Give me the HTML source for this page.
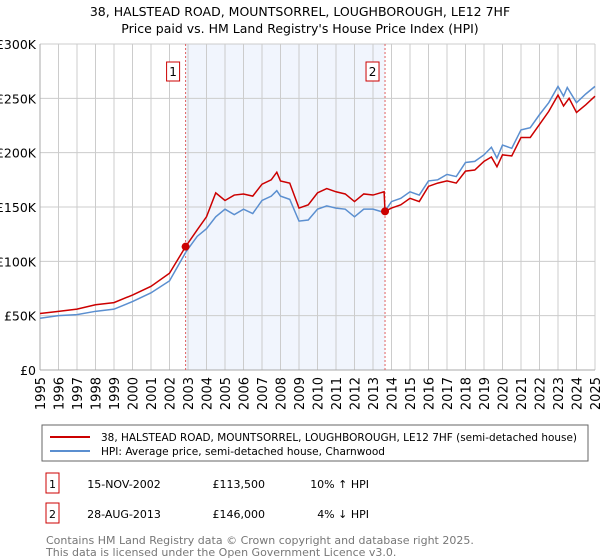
<!DOCTYPE html>
<html><head><meta charset="utf-8"><style>
body{margin:0;background:#fff;font-family:"Liberation Sans","DejaVu Sans",sans-serif;}
#wrap{position:relative;width:600px;height:560px;overflow:hidden;}
svg text{font-family:"DejaVu Sans","Liberation Sans",sans-serif;}
</style></head><body><div id="wrap">
<svg id="chart" width="600" height="560"></svg>
</div>
<script>
const hpiYears=[1995,1996,1997,1998,1999,2000,2001,2002,2002.9,2003.5,2004,2004.5,2005,2005.5,2006,2006.5,2007,2007.5,2007.8,2008,2008.5,2009,2009.5,2010,2010.5,2011,2011.5,2012,2012.5,2013,2013.6,2014,2014.5,2015,2015.5,2016,2016.5,2017,2017.5,2018,2018.5,2019,2019.4,2019.7,2020,2020.5,2021,2021.5,2022,2022.5,2023,2023.3,2023.5,2024,2024.5,2025];
const hpiValues=[47.6,50,51,54,56,63,71,82,109,123,130,141,148,143,148,144,156,160,165,160,157,137,138,148,151,149,148,141,148,148,145,155,158,164,161,174,175,180,178,191,192,198,205,195,207,204,221,223,235,246,261,252,260,246,254,261];
const redYears=[1995,1996,1997,1998,1999,2000,2001,2002,2002.87,2003.5,2004,2004.5,2005,2005.5,2006,2006.5,2007,2007.5,2007.8,2008,2008.5,2009,2009.5,2010,2010.5,2011,2011.5,2012,2012.5,2013,2013.6,2013.65,2014,2014.5,2015,2015.5,2016,2016.5,2017,2017.5,2018,2018.5,2019,2019.4,2019.7,2020,2020.5,2021,2021.5,2022,2022.5,2023,2023.3,2023.6,2024,2024.5,2025];
const redValues=[52,54,56,60,62,69,77,89,113.5,129,141,163,156,161,162,160,171,175,182,174,172,149,152,163,167,164,162,155,162,161,164,146,149,152,158,155,169,172,174,172,183,184,192,196,187,198,197,214,214,226,238,253,243,250,237,244,252];
const saleYears=[2002.87,2013.65];
const saleValues=[113.5,146];
const saleLabels=["1","2"];
const yTicks=[0,50,100,150,200,250,300];
const yTickLabels=["£0","£50K","£100K","£150K","£200K","£250K","£300K"];
const xTicks=[1995,1996,1997,1998,1999,2000,2001,2002,2003,2004,2005,2006,2007,2008,2009,2010,2011,2012,2013,2014,2015,2016,2017,2018,2019,2020,2021,2022,2023,2024,2025];

const NS="http://www.w3.org/2000/svg";
const svg=document.getElementById('chart');
const X0=40,X1=595,Y0=370,Y1=44;
const x=v=>X0+(v-1995)/(2025-1995)*(X1-X0);
const y=v=>Y0-v/300*(Y0-Y1);
function mk(t,a,txt){const e=document.createElementNS(NS,t);for(const k in a)e.setAttribute(k,a[k]);if(txt!=null)e.textContent=txt;svg.appendChild(e);return e;}

let e=mk('text',{x:300,y:16,'text-anchor':'middle','font-size':12.5,fill:'#000'},'38, HALSTEAD ROAD, MOUNTSORREL, LOUGHBOROUGH, LE12 7HF');


e=mk('text',{x:300,y:33,'text-anchor':'middle','font-size':12.5,fill:'#000'},"Price paid vs. HM Land Registry's House Price Index (HPI)");



e=mk('rect',{x:x(saleYears[0]),y:Y1,width:x(saleYears[1])-x(saleYears[0]),height:Y0-Y1,fill:'#eef3fc',opacity:0.8});



yTicks.forEach((t,i)=>{
 e=mk('line',{x1:X0,x2:X1,y1:y(t),y2:y(t),stroke:'#ccc','stroke-width':1});
 
 
 e=mk('text',{x:36,y:y(t)+5,'text-anchor':'end','font-size':12.5,fill:'#000'},yTickLabels[i]);
 
 
});
xTicks.forEach(t=>{
 e=mk('line',{x1:x(t),x2:x(t),y1:Y1,y2:Y0,stroke:'#ccc','stroke-width':1});
 
 
 e=mk('text',{x:0,y:0,'text-anchor':'end','font-size':13,fill:'#000',transform:`translate(${x(t)+5},377) rotate(-90)`},String(t));
 
 
});
e=mk('line',{x1:X0,x2:X0,y1:Y1,y2:Y0,stroke:'#aaa'});


e=mk('line',{x1:X0,x2:X1,y1:Y0,y2:Y0,stroke:'#aaa'});



saleYears.forEach((s,i)=>{
 e=mk('line',{x1:x(s),x2:x(s),y1:Y1,y2:Y0,stroke:'#e06060','stroke-dasharray':'2,2','stroke-width':1});
 
 
 e=mk('rect',{x:x(s)-19,y:62,width:13,height:19,fill:'#fff',stroke:'#cc0000'});
 
 
 e=mk('text',{x:x(s)-12.5,y:76,'text-anchor':'middle','font-size':12,fill:'#000'},saleLabels[i]);
 
 
});

e=mk('polyline',{points:hpiYears.map((t,i)=>x(t)+','+y(hpiValues[i])).join(' '),fill:'none',stroke:'#5b8fd0','stroke-width':1.5});


e=mk('polyline',{points:redYears.map((t,i)=>x(t)+','+y(redValues[i])).join(' '),fill:'none',stroke:'#cc0000','stroke-width':1.5});


saleYears.forEach((s,i)=>{
 e=mk('circle',{cx:x(s),cy:y(saleValues[i]),r:4,fill:'#cc0000'});
 
 
});

e=mk('rect',{x:42,y:425,width:546,height:36,fill:'#fff',stroke:'#666'});


e=mk('line',{x1:50,x2:90,y1:437,y2:437,stroke:'#cc0000','stroke-width':2});


e=mk('text',{x:101,y:441,'font-size':11,fill:'#000',textLength:476,lengthAdjust:'spacingAndGlyphs'},'38, HALSTEAD ROAD, MOUNTSORREL, LOUGHBOROUGH, LE12 7HF (semi-detached house)');


e=mk('line',{x1:50,x2:90,y1:451,y2:451,stroke:'#5b8fd0','stroke-width':2});


e=mk('text',{x:101,y:455,'font-size':11,fill:'#000',textLength:284,lengthAdjust:'spacingAndGlyphs'},'HPI: Average price, semi-detached house, Charnwood');



const rows=[["1","15-NOV-2002","£113,500","10% ↑ HPI"],["2","28-AUG-2013","£146,000","4% ↓ HPI"]];
rows.forEach((r,i)=>{
 const ty=486+i*30;
 e=mk('rect',{x:46,y:ty-13,width:13,height:20,fill:'#fff',stroke:'#cc0000'});
 
 
 e=mk('text',{x:52.5,y:ty+2,'text-anchor':'middle','font-size':11,fill:'#000'},r[0]);
 
 
 e=mk('text',{x:124,y:ty+2,'text-anchor':'middle','font-size':11,fill:'#000'},r[1]);
 
 
 e=mk('text',{x:265,y:ty+2,'text-anchor':'end','font-size':11,fill:'#000'},r[2]);
 
 
 e=mk('text',{x:369,y:ty+2,'text-anchor':'end','font-size':11,fill:'#000'},r[3]);
 
 
});
e=mk('text',{x:46,y:544,'font-size':11,fill:'#777'},'Contains HM Land Registry data © Crown copyright and database right 2025.');


e=mk('text',{x:46,y:556,'font-size':11,fill:'#777'},'This data is licensed under the Open Government Licence v3.0.');


</script></body></html>
